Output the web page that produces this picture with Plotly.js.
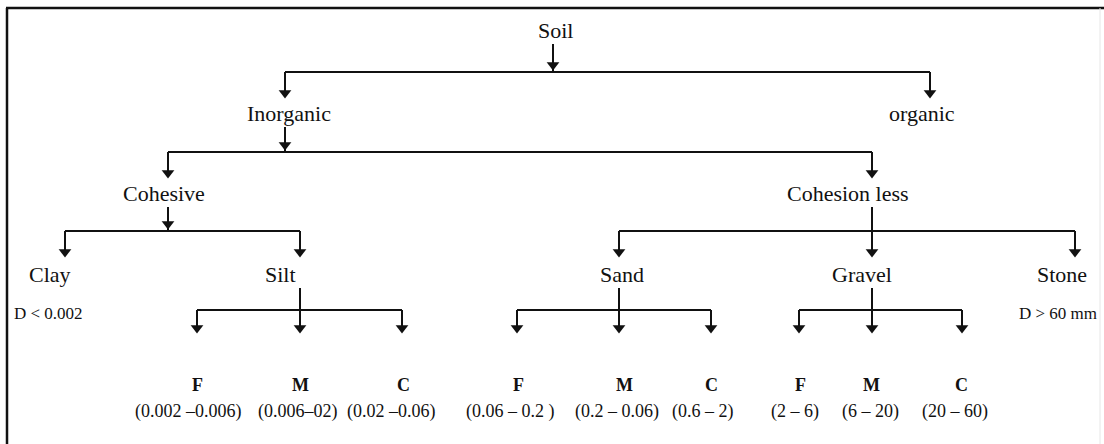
<!DOCTYPE html>
<html>
<head>
<meta charset="utf-8">
<script src="https://cdn.plot.ly/plotly-3.0.1.min.js"></script>
<style>html,body{margin:0;padding:0;background:#fff;}#chart{width:1104px;height:444px;}</style>
</head>
<body>
<div id="chart"></div>
<script>
// ---- data: the classification tree ----
const nodeLabels  = ["Soil", "Inorganic", "organic", "Cohesive", "Cohesion less",
                     "Clay", "Silt", "Sand", "Gravel", "Stone",
                     "F", "M", "C", "F", "M", "C", "F", "M", "C"];
const nodeParents = [-1, 0, 0, 1, 1, 3, 3, 4, 4, 4, 6, 6, 6, 7, 7, 7, 8, 8, 8];
const nodeLevels  = [0, 1, 1, 2, 2, 3, 3, 3, 3, 3, 4, 4, 4, 4, 4, 4, 4, 4, 4];
const nodeNotes   = ["", "", "", "", "", "D < 0.002", "", "", "", "D > 60 mm",
                     "(0.002 \u20130.006)", "(0.006\u201302)", "(0.02 \u20130.06)",
                     "(0.06 \u2013 0.2 )", "(0.2 \u2013 0.06)", "(0.6 \u2013 2)",
                     "(2 \u2013 6)", "(6 \u2013 20)", "(20 \u2013 60)"];

// ---- layout positions (pixels) ----
const connectorX = [553, 285, 930, 168, 872, 65, 300, 619, 872, 1075,
                    197, 300, 402, 517, 619, 711, 799, 872, 962];
const labelX     = [555, 289, 922, 164, 848, 50, 280, 622, 862, 1062,
                    197, 300, 403, 518, 624, 711, 800, 871, 961];
const noteX      = [0, 0, 0, 0, 0, 12, 0, 0, 0, 1099,
                    188, 298, 391, 510, 617, 703, 795, 870, 955];
const levelLabelY = [30, 113, 193, 274, 385];
const levelStemTop = [44, 127, 207, 288, 0];
const levelTipY   = [0, 98, 178, 257, 333];
const levelBusY   = [72, 152, 231, 310, 0];
const noteY = {3: 313, 4: 411};

const lx = [], ly = [], tipX = [], tipY = [];
function seg(x0, y0, x1, y1) { lx.push(x0, x1, null); ly.push(y0, y1, null); }

nodeLabels.forEach((lab, p) => {
  const kids = [];
  nodeParents.forEach((q, i) => { if (q === p) kids.push(i); });
  if (!kids.length) return;
  const lev = nodeLevels[p];
  const bus = levelBusY[lev];
  const px = connectorX[p];
  const kx = kids.map(k => connectorX[k]);
  const hasMid = kx.includes(px);
  seg(px, levelStemTop[lev], px, bus);
  if (!hasMid) { tipX.push(px); tipY.push(bus - 2); }
  seg(Math.min(...kx), bus, Math.max(...kx), bus);
  kids.forEach(k => {
    const t = levelTipY[nodeLevels[k]];
    seg(connectorX[k], bus, connectorX[k], t - 4);
    tipX.push(connectorX[k]); tipY.push(t);
  });
});

const traces = [
  {x: lx, y: ly, mode: "lines", line: {color: "#111", width: 2}, hoverinfo: "skip", showlegend: false},
  {x: tipX, y: tipY.map(v => v - 5), mode: "markers",
   marker: {symbol: "triangle-down", size: 11, color: "#111", line: {width: 0}},
   hoverinfo: "skip", showlegend: false}
];

const serif = "Liberation Serif, Times New Roman, serif";
const ann = [];
nodeLabels.forEach((lab, i) => {
  const lev = nodeLevels[i];
  ann.push({x: labelX[i], y: levelLabelY[lev], xref: "x", yref: "y", text: lev === 4 ? "<b>" + lab + "</b>" : lab,
            showarrow: false, xanchor: "center", yanchor: "middle",
            font: {family: serif, size: lev === 4 ? 18 : 22, color: "#111"}});
  if (nodeNotes[i]) {
    let xa = "center";
    if (lev === 3) xa = noteX[i] < 500 ? "left" : "right";
    ann.push({x: noteX[i], y: noteY[lev], xref: "x", yref: "y", text: nodeNotes[i],
              showarrow: false, xanchor: xa, yanchor: "middle",
              font: {family: serif, size: lev === 4 ? 18 : 17, color: "#111"}});
  }
});

const layout = {
  width: 1104, height: 444,
  margin: {l: 0, r: 0, t: 0, b: 0},
  paper_bgcolor: "#fff", plot_bgcolor: "#fff",
  xaxis: {range: [0, 1104], visible: false, fixedrange: true},
  yaxis: {range: [444, 0], visible: false, fixedrange: true},
  annotations: ann,
  shapes: [
    {type: "line", xref: "x", yref: "y", x0: 6, x1: 1104, y0: 8, y1: 8, line: {color: "#111", width: 2.5}},
    {type: "line", xref: "x", yref: "y", x0: 7, x1: 7, y0: 8, y1: 444, line: {color: "#111", width: 2.5}},
    {type: "line", xref: "x", yref: "y", x0: 1100, x1: 1100, y0: 8, y1: 444, line: {color: "#e6e6e6", width: 1}}
  ]
};

Plotly.newPlot("chart", traces, layout, {displayModeBar: false, staticPlot: true});
</script>
</body>
</html>
